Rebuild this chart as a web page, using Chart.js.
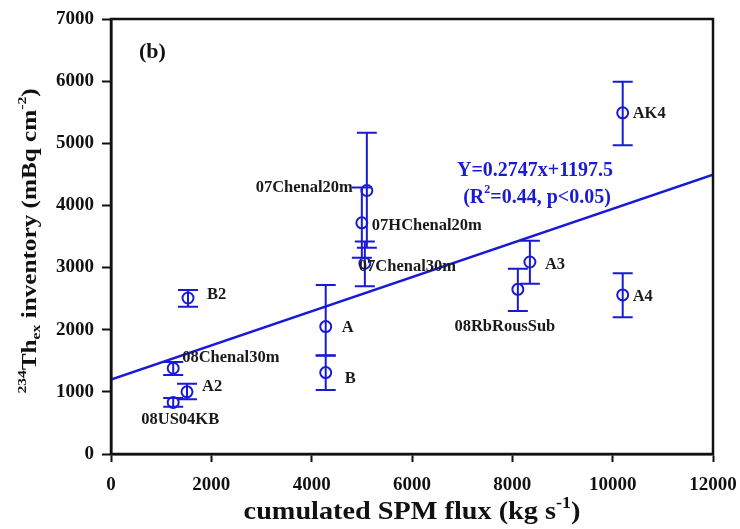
<!DOCTYPE html>
<html>
<head>
<meta charset="utf-8">
<script src="https://cdn.jsdelivr.net/npm/chart.js@4/dist/chart.umd.min.js"></script>
<style>
html,body{margin:0;padding:0;background:#fff;}
#c{display:block;}
</style>
</head>
<body>
<canvas id="c" width="740" height="529"></canvas>
<script>
// ---- data ----
const stationNames = ['AK4','07Chenal20m','07HChenal20m','07Chenal30m','A3','08RbRousSub','A4','B2','A','B','08Chenal30m','A2','08US04KB'];
const spmFlux      = [10200, 5100, 5000, 5060, 8350, 8110, 10200, 1535, 4280, 4280, 1240, 1515, 1240];
const thInventory  = [5490, 4240, 3720, 3070, 3090, 2650, 2560, 2510, 2050, 1310, 1380, 1000, 830];
const errHigh      = [5990, 5170, 4290, 3420, 3430, 2980, 2910, 2640, 2720, 1580, 1480, 1130, 900];
const errLow       = [4970, 3320, 3160, 2700, 2740, 2300, 2200, 2370, 1590, 1030, 1270, 880, 760];
const xTicks = [0, 2000, 4000, 6000, 8000, 10000, 12000];
const yTicks = [0, 1000, 2000, 3000, 4000, 5000, 6000, 7000];
const regSlope = 0.2747;
const regIntercept = 1197.5;
const regX = [0, 12000];
const eqLine1 = 'Y=0.2747x+1197.5';
const panelLabel = '(b)';

// ---- styles (positions of labels relative to points, in px) ----
const BLUE = '#1a1ad6';
const SERIF = '"Liberation Serif", "DejaVu Serif", serif';
const labelOffsets = {
  'AK4':          {dx: 10, dy: 1,  align: 'left'},
  '07Chenal20m':  {dx: -14, dy: -3, align: 'right'},
  '07HChenal20m': {dx: 10, dy: 3,  align: 'left'},
  '07Chenal30m':  {dx: -6, dy: 4,  align: 'left'},
  'A3':           {dx: 15, dy: 3,  align: 'left'},
  '08RbRousSub':  {dx: -13, dy: 37, align: 'center'},
  'A4':           {dx: 10, dy: 2,  align: 'left'},
  'B2':           {dx: 19, dy: -3, align: 'left'},
  'A':            {dx: 16, dy: 1,  align: 'left'},
  'B':            {dx: 19, dy: 6,  align: 'left'},
  '08Chenal30m':  {dx: 9,  dy: -11, align: 'left'},
  'A2':           {dx: 15, dy: -5, align: 'left'},
  '08US04KB':     {dx: 7,  dy: 17, align: 'center'}
};

const points = spmFlux.map((x, i) => ({x: x, y: thInventory[i]}));
const regLine = regX.map(x => ({x: x, y: regSlope * x + regIntercept}));

function drawRich(ctx, segs, size, cx, cy, sx) {
  const small = Math.round(size * 0.62);
  let total = 0;
  segs.forEach(sg => {
    ctx.font = 'bold ' + (sg.s ? small : size) + 'px ' + SERIF;
    sg.w = ctx.measureText(sg.t).width;
    total += sg.w;
  });
  ctx.save();
  ctx.translate(cx, cy);
  ctx.scale(sx || 1, 1);
  let x = -total / 2;
  ctx.textAlign = 'left';
  ctx.textBaseline = 'middle';
  segs.forEach(sg => {
    ctx.font = 'bold ' + (sg.s ? small : size) + 'px ' + SERIF;
    let dy = 0;
    if (sg.s === 'sup') dy = -size * 0.38;
    if (sg.s === 'sub') dy = size * 0.28;
    ctx.fillText(sg.t, x, dy);
    x += sg.w;
  });
  ctx.restore();
}

const decorPlugin = {
  id: 'decor',
  afterDatasetsDraw(chart) {
    const ctx = chart.ctx;
    const xs = chart.scales.x, ys = chart.scales.y;
    const ca = chart.chartArea;
    ctx.save();
    ctx.beginPath();
    ctx.rect(ca.left, ca.top, ca.right - ca.left, ca.bottom - ca.top);
    ctx.clip();
    ctx.strokeStyle = BLUE;
    ctx.lineWidth = 2;
    spmFlux.forEach((xv, i) => {
      const px = xs.getPixelForValue(xv);
      const pHi = ys.getPixelForValue(errHigh[i]);
      const pLo = ys.getPixelForValue(errLow[i]);
      const cap = 10;
      ctx.beginPath();
      ctx.moveTo(px, pHi); ctx.lineTo(px, pLo);
      ctx.moveTo(px - cap, pHi); ctx.lineTo(px + cap, pHi);
      ctx.moveTo(px - cap, pLo); ctx.lineTo(px + cap, pLo);
      ctx.stroke();
    });
    ctx.restore();
  },
  afterDraw(chart) {
    const ctx = chart.ctx;
    const xs = chart.scales.x, ys = chart.scales.y;
    const ca = chart.chartArea;
    ctx.save();
    ctx.strokeStyle = '#111';
    ctx.lineWidth = 2.5;
    ctx.strokeRect(ca.left, ca.top, ca.right - ca.left, ca.bottom - ca.top);
    ctx.fillStyle = '#1a1a1a';
    ctx.font = 'bold 16.5px ' + SERIF;
    ctx.textBaseline = 'middle';
    stationNames.forEach((name, i) => {
      const o = labelOffsets[name];
      const px = xs.getPixelForValue(spmFlux[i]);
      const py = ys.getPixelForValue(thInventory[i]);
      ctx.textAlign = o.align;
      ctx.fillText(name, px + o.dx, py + o.dy);
    });
    ctx.font = 'bold 22px ' + SERIF;
    ctx.textAlign = 'left';
    ctx.fillStyle = '#111';
    ctx.fillText(panelLabel, ca.left + 28, ca.top + 33);
    ctx.fillStyle = BLUE;
    drawRich(ctx, [{t: eqLine1}], 20, 535, 171, 1);
    drawRich(ctx, [{t:'(R'},{t:'2',s:'sup'},{t:'=0.44, p<0.05)'}], 20, 537, 198, 1);
    ctx.fillStyle = '#111';
    drawRich(ctx, [{t:'cumulated SPM flux (kg s'},{t:'-1',s:'sup'},{t:')'}], 25, (ca.left + ca.right) / 2, 513, 1.13);
    ctx.translate(31, 241);
    ctx.rotate(-Math.PI / 2);
    drawRich(ctx, [{t:'234',s:'sup'},{t:'Th'},{t:'ex',s:'sub'},{t:' inventory (mBq cm'},{t:'-2',s:'sup'},{t:')'}], 21, 0, 0, 1.2);
    ctx.restore();
  }
};

new Chart(document.getElementById('c'), {
  type: 'scatter',
  data: {
    datasets: [
      {
        type: 'line',
        data: regLine,
        borderColor: BLUE,
        borderWidth: 2.5,
        pointRadius: 0,
        fill: false,
        order: 2
      },
      {
        data: points,
        pointStyle: 'circle',
        pointRadius: 5.5,
        pointBorderWidth: 2,
        borderColor: BLUE,
        backgroundColor: 'rgba(0,0,0,0)',
        order: 1
      }
    ]
  },
  options: {
    responsive: false,
    animation: false,
    devicePixelRatio: 1,
    layout: {padding: {left: 0, top: 19, right: 27, bottom: 0}},
    plugins: {legend: {display: false}, tooltip: {enabled: false}},
    scales: {
      x: {
        type: 'linear',
        min: xTicks[0], max: xTicks[xTicks.length - 1],
        afterBuildTicks(scale) { scale.ticks = xTicks.map(v => ({value: v})); },
        afterFit(scale) { scale.height = 75; scale.paddingLeft = 0; scale.paddingRight = 0; },
        grid: {drawOnChartArea: false, drawTicks: true, tickLength: 8, tickWidth: 2, tickColor: '#111', color: '#111'},
        border: {display: true, color: '#111', width: 2.5},
        ticks: {color: '#111', font: {family: SERIF, size: 19, weight: 'bold'}, padding: 12, maxRotation: 0,
                callback: v => String(v)},
        title: {display: false}
      },
      y: {
        type: 'linear',
        min: yTicks[0], max: yTicks[yTicks.length - 1],
        afterBuildTicks(scale) { scale.ticks = yTicks.map(v => ({value: v})); },
        afterFit(scale) { scale.width = 111; scale.paddingTop = 0; scale.paddingBottom = 0; },
        grid: {drawOnChartArea: false, drawTicks: true, tickLength: 9, tickWidth: 2, tickColor: '#111', color: '#111'},
        border: {display: true, color: '#111', width: 2.5},
        ticks: {color: '#111', font: {family: SERIF, size: 19, weight: 'bold'}, padding: 8,
                callback: v => String(v)},
        title: {display: false}
      }
    }
  },
  plugins: [decorPlugin]
});
</script>
</body>
</html>
